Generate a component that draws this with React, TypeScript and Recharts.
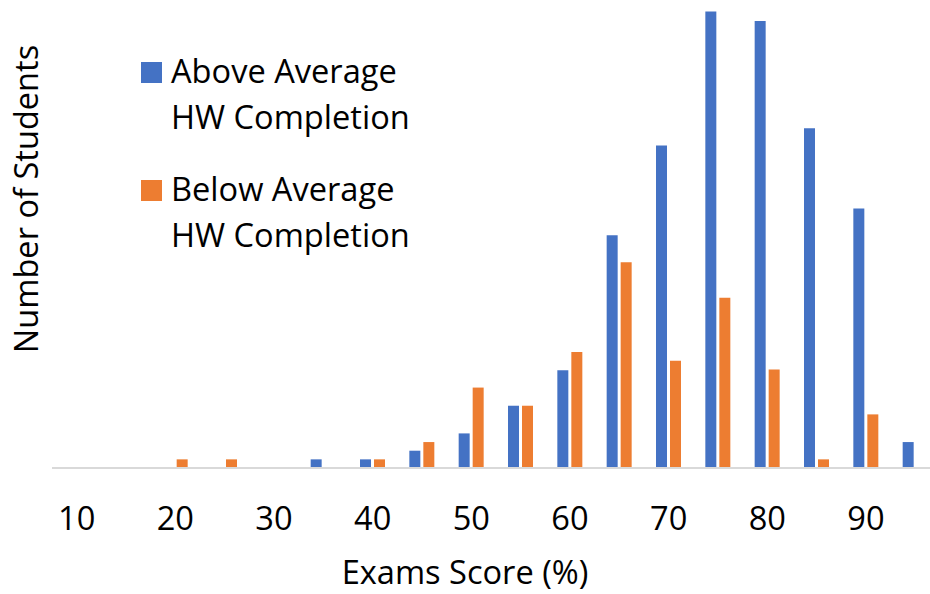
import React from "react";
import { BarChart, Bar, XAxis, YAxis, Label } from "recharts";

// exam score buckets (%), every other one gets a tick label
const CATEGORIES = ["10", "15", "20", "25", "30", "35", "40", "45", "50", "55", "60", "65", "70", "75", "80", "85", "90", "95"];
const ABOVE_AVG = [0, 0, 0, 0, 0, 1, 1, 2, 4, 7.2, 11.3, 26.9, 37.3, 52.8, 51.7, 39.3, 30, 3];
const BELOW_AVG = [0, 0, 1, 1, 0, 0, 1, 3, 9.3, 7.2, 13.4, 23.8, 12.4, 19.7, 11.4, 1, 6.2, 0];

const SERIES = [
  { key: "above", lines: ["Above Average", "HW Completion"], color: "#4472C4" },
  { key: "below", lines: ["Below Average", "HW Completion"], color: "#ED7D31" },
];

const data = CATEGORIES.map((score, i) => ({
  score,
  above: ABOVE_AVG[i],
  below: BELOW_AVG[i],
}));

const FONT = "'Open Sans', sans-serif";
const FS = 32.6;

function XTitle({ viewBox }: any) {
  return (
    <text x={viewBox.x + 413} y={viewBox.y + 116} textAnchor="middle" fontSize={FS} fontFamily={FONT} fill="#000">
      Exams Score (%)
    </text>
  );
}

function YTitle({ viewBox }: any) {
  const x = viewBox.x + 38;
  const y = 199;
  return (
    <text x={x} y={y} transform={`rotate(-90 ${x} ${y})`} textAnchor="middle" fontSize={FS} fontFamily={FONT} fill="#000">
      Number of Students
    </text>
  );
}

function LegendBox() {
  return (
    <svg width={930} height={594} style={{ position: "absolute", left: 0, top: 0, pointerEvents: "none" }}>
      {SERIES.map((s, i) => {
        const top = 62 + i * 118;
        return (
          <g key={s.key}>
            <rect x={141} y={top} width={21} height={21} fill={s.color} />
            {s.lines.map((line, j) => (
              <text key={j} x={171} y={top + 21 + j * 45.5} fontSize={FS} fontFamily={FONT} fill="#000">
                {line}
              </text>
            ))}
          </g>
        );
      })}
    </svg>
  );
}

export default function App() {
  return (
    <div style={{ position: "fixed", left: 0, top: 0, width: 930, height: 594, overflow: "hidden", background: "#fff" }}>
      <BarChart width={940} height={594} data={data} margin={{ top: 1, right: 0, bottom: 0, left: 0 }} barSize={11} barGap={3}>
        <XAxis
          dataKey="score"
          interval={1}
          tickLine={false}
          tickSize={0}
          tickMargin={39}
          height={126}
          axisLine={{ stroke: "#D9D9D9", strokeWidth: 2 }}
          tick={{ fontSize: FS, fontFamily: FONT, fill: "#000" }}
        >
          <Label content={XTitle} />
        </XAxis>
        <YAxis width={52} domain={[0, 54]} tick={false} tickLine={false} axisLine={false}>
          <Label content={YTitle} />
        </YAxis>
        {SERIES.map((s) => (
          <Bar key={s.key} dataKey={s.key} fill={s.color} isAnimationActive={false} />
        ))}
      </BarChart>
      <LegendBox />
    </div>
  );
}
